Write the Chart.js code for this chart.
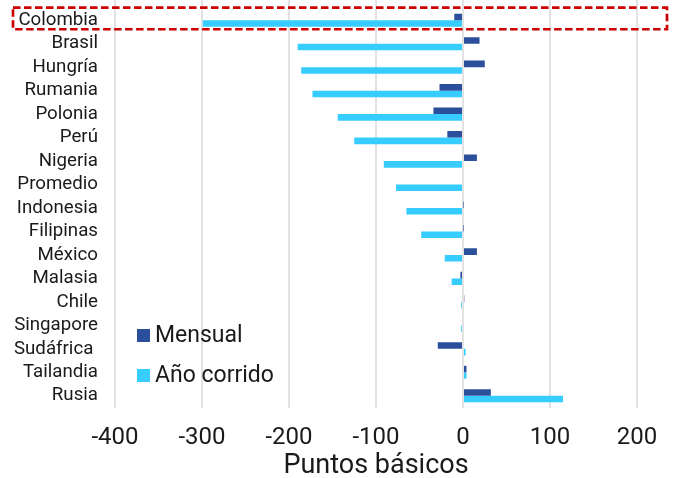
<!DOCTYPE html>
<html lang="es">
<head>
<meta charset="utf-8">
<title>Puntos básicos</title>
<script src="https://cdn.jsdelivr.net/npm/chart.js@4/dist/chart.umd.min.js"></script>
<style>
  html, body { margin: 0; padding: 0; background: #ffffff; }
  #wrap { width: 676px; height: 478px; position: relative; }
</style>
</head>
<body>
<div id="wrap"><canvas id="chart"></canvas></div>
<script>
// Países (el espacio final de "Sudáfrica " forma parte de la etiqueta)
const paises = ['Colombia', 'Brasil', 'Hungría', 'Rumania', 'Polonia', 'Perú', 'Nigeria',
  'Promedio', 'Indonesia', 'Filipinas', 'México', 'Malasia', 'Chile', 'Singapore',
  'Sudáfrica ', 'Tailandia', 'Rusia'];

// Variación en puntos básicos
const mensual = [-10, 19, 25, -27, -34, -18, 16, 0, 0.5, 0.5, 16, -3, 1.5, 0, -29, 4, 32];
const anoCorrido = [-299, -190, -186, -173, -144, -125, -91, -77, -65, -48, -21, -13, -2, -2, 3, 4, 115];

const ticksX = [-400, -300, -200, -100, 0, 100, 200];

const colorMensual = '#2c4f9c';
const colorAnual = '#36ccfd';
const colorGrid = '#e2e2e2';
const colorTexto = '#1a1a1a';
const FUENTE = 'Roboto, "Noto Sans", sans-serif';

// Prolonga las líneas verticales de la cuadrícula hasta el borde superior
const extensionCuadricula = {
  id: 'extensionCuadricula',
  beforeDatasetsDraw(chart) {
    const { ctx, chartArea, scales: { x } } = chart;
    ctx.save();
    ctx.strokeStyle = colorGrid;
    ctx.lineWidth = 2;
    x.ticks.forEach(t => {
      const px = Math.round(x.getPixelForValue(t.value));
      ctx.beginPath();
      ctx.moveTo(px, 0);
      ctx.lineTo(px, chartArea.top);
      ctx.stroke();
    });
    ctx.restore();
  }
};

// Recuadro punteado que resalta la primera fila
const recuadro = {
  id: 'recuadro',
  afterDatasetsDraw(chart) {
    const { ctx, width, scales: { y } } = chart;
    const cy = y.getPixelForValue(0);
    ctx.save();
    ctx.strokeStyle = '#cc0000';
    ctx.lineWidth = 2.7;
    ctx.setLineDash([7.5, 3.5]);
    ctx.strokeRect(13, cy - 12.6, width - 13 - 9, 21.6);
    ctx.restore();
  }
};

// Leyenda dentro del área del gráfico
const leyenda = {
  id: 'leyenda',
  afterDraw(chart) {
    const { ctx, chartArea } = chart;
    const x0 = chartArea.left + 22;
    const filas = [chartArea.top + 327, chartArea.top + 367];
    ctx.save();
    ctx.font = '23px ' + FUENTE;
    ctx.textBaseline = 'middle';
    ctx.textAlign = 'left';
    chart.data.datasets.forEach((ds, i) => {
      const cy = filas[i];
      ctx.fillStyle = ds.backgroundColor;
      ctx.fillRect(x0, cy - 6.5, 13, 13);
      ctx.fillStyle = colorTexto;
      ctx.fillText(ds.label, x0 + 18, cy + 1);
    });
    ctx.restore();
  }
};

new Chart(document.getElementById('chart'), {
  type: 'bar',
  data: {
    labels: paises,
    datasets: [
      { label: 'Mensual', data: mensual, backgroundColor: colorMensual },
      { label: 'Año corrido', data: anoCorrido, backgroundColor: colorAnual }
    ]
  },
  options: {
    indexAxis: 'y',
    responsive: true,
    maintainAspectRatio: false,
    animation: false,
    layout: { padding: { top: 8.5, right: 39, bottom: 0, left: 0 } },
    datasets: { bar: { categoryPercentage: 0.56, barPercentage: 1.0 } },
    plugins: {
      legend: { display: false },
      tooltip: { enabled: false }
    },
    scales: {
      x: {
        type: 'linear',
        min: -400,
        max: 200,
        afterBuildTicks(scale) { scale.ticks = ticksX.map(v => ({ value: v })); },
        afterFit(scale) { scale.height = 70.5; },
        border: { display: false },
        grid: { color: colorGrid, lineWidth: 2, drawTicks: false },
        ticks: {
          color: colorTexto,
          font: { family: FUENTE, size: 24 },
          padding: 16,
          maxRotation: 0,
          autoSkip: false
        },
        title: {
          display: true,
          text: 'Puntos básicos',
          color: colorTexto,
          font: { family: FUENTE, size: 27, lineHeight: 0.9 },
          padding: { top: 0, bottom: 0 }
        }
      },
      y: {
        afterFit(scale) {
          scale.width = 115;
          scale.paddingTop = 0;
          scale.paddingBottom = 0;
        },
        border: { display: false },
        grid: { display: false, drawTicks: false },
        ticks: {
          color: colorTexto,
          font: { family: FUENTE, size: 18.7 },
          padding: 17,
          autoSkip: false
        }
      }
    }
  },
  plugins: [extensionCuadricula, recuadro, leyenda]
});
</script>
</body>
</html>
